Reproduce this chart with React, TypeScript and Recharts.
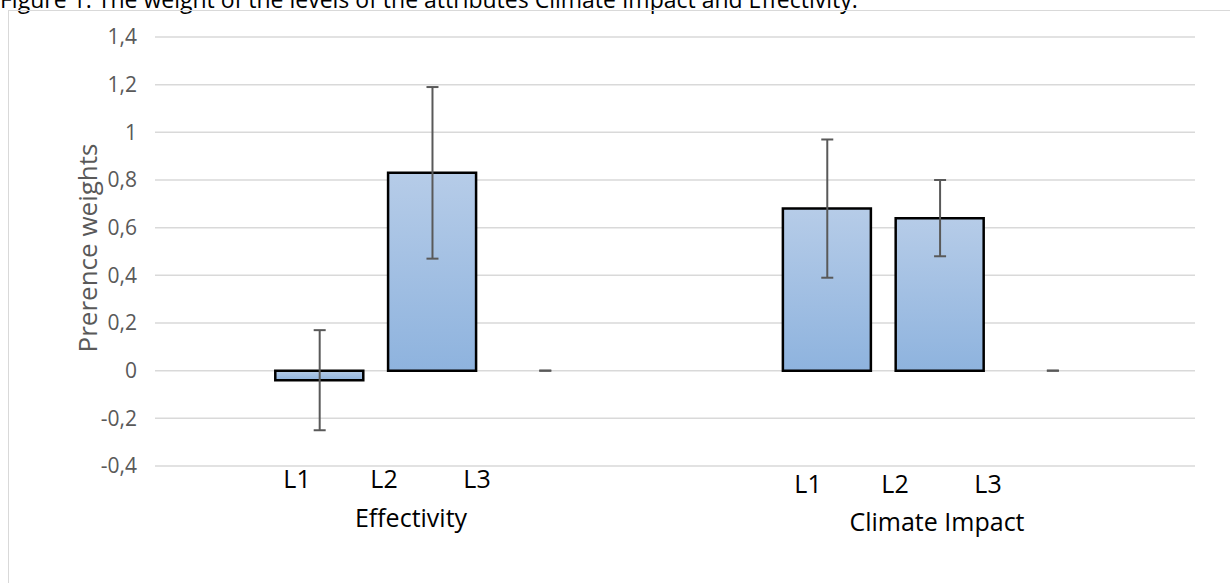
import { ComposedChart, Bar, Scatter, XAxis, YAxis, CartesianGrid, ErrorBar } from "recharts";

const LEVELS = ["L1", "L2", "L3", "L1", "L2", "L3"];
const GROUPS = ["Effectivity", "Effectivity", "Effectivity", "Climate Impact", "Climate Impact", "Climate Impact"];
// position of each level along the category axis (gap between the two attributes)
const LEVEL_POS = [0, 1, 2, 4.5, 5.5, 6.5];
const WEIGHTS = [-0.04, 0.83, 0, 0.68, 0.64, 0];
const ERRORS = [0.21, 0.36, 0, 0.29, 0.16, 0];
const Y_TICKS = [-0.4, -0.2, 0, 0.2, 0.4, 0.6, 0.8, 1, 1.2, 1.4];

const TITLE = "Figure 1: The weight of the levels of the attributes Climate Impact and Effectivity.";
const Y_LABEL = "Prerence weights";

// errors as [low, high] pairs so a zero error still draws its cap
const data = LEVELS.map((level, i) => ({
  level,
  group: GROUPS[i],
  pos: LEVEL_POS[i],
  weight: WEIGHTS[i],
  err: [ERRORS[i], ERRORS[i]],
}));

const font = "'Open Sans', sans-serif";

const fmt = (v: number) => String(Number(v.toFixed(1))).replace(".", ",");

// hand placed text boxes under the plot, like in the original figure
const levelLabels = [
  { text: "L1", x: 297, y: 478 },
  { text: "L2", x: 384, y: 478 },
  { text: "L3", x: 477, y: 478 },
  { text: "L1", x: 808, y: 483 },
  { text: "L2", x: 895, y: 483 },
  { text: "L3", x: 988, y: 483 },
];
const groupLabels = [
  { text: "Effectivity", x: 411, y: 517 },
  { text: "Climate Impact", x: 937, y: 521 },
];

const textBox = (x: number, y: number): React.CSSProperties => ({
  position: "absolute",
  left: x,
  top: y,
  transform: "translate(-50%, -50%)",
  whiteSpace: "nowrap",
  fontFamily: font,
  fontSize: 25,
  color: "#000",
});

export default function App() {
  return (
    <div
      style={{
        position: "absolute",
        left: 0,
        top: 0,
        width: 1230,
        height: 583,
        overflow: "hidden",
        background: "#fff",
      }}
    >
      <div
        style={{
          position: "absolute",
          left: 0,
          top: -15,
          fontFamily: font,
          fontSize: 23,
          lineHeight: "28px",
          color: "#000",
          whiteSpace: "nowrap",
        }}
      >
        {TITLE}
      </div>
      <div
        style={{
          position: "absolute",
          left: 8,
          top: 10,
          width: 1240,
          height: 600,
          border: "1.5px solid #d9d9d9",
        }}
      />
      <div style={{ position: "absolute", left: 0, top: 0 }}>
        <ComposedChart width={1230} height={583} data={data} margin={{ top: 37, right: 35, bottom: 117, left: 0 }}>
          <defs>
            <linearGradient id="barFill" x1="0" y1="0" x2="0" y2="1">
              <stop offset="0%" stopColor="#b6cce8" />
              <stop offset="100%" stopColor="#8eb3de" />
            </linearGradient>
          </defs>
          <CartesianGrid vertical={false} stroke="#d9d9d9" strokeWidth={1.5} />
          <XAxis dataKey="pos" type="number" domain={[-1.46, 7.76]} hide />
          <YAxis
            width={155}
            domain={[-0.4, 1.4]}
            ticks={Y_TICKS}
            tickFormatter={fmt}
            axisLine={false}
            tickLine={false}
            tickSize={16}
            tickMargin={2}
            tick={{ fontSize: 21, fill: "#595959", fontFamily: font }}
          />
          <Bar
            dataKey="weight"
            barSize={88}
            fill="url(#barFill)"
            stroke="#000"
            strokeWidth={2.5}
            isAnimationActive={false}
          />
          {/* error bars hang on invisible points so the zero ones still show their cap */}
          <Scatter dataKey="weight" shape={() => <g />} isAnimationActive={false}>
            <ErrorBar dataKey="err" width={6} stroke="#595959" strokeWidth={2} direction="y" />
          </Scatter>
        </ComposedChart>
      </div>
      <div
        style={{
          position: "absolute",
          left: 87,
          top: 248,
          transform: "translate(-50%, -50%) rotate(-90deg)",
          whiteSpace: "nowrap",
          fontFamily: font,
          fontSize: 26,
          color: "#595959",
        }}
      >
        {Y_LABEL}
      </div>
      {levelLabels.map((l, i) => (
        <div key={"l" + i} style={textBox(l.x, l.y)}>
          {l.text}
        </div>
      ))}
      {groupLabels.map((g, i) => (
        <div key={"g" + i} style={textBox(g.x, g.y)}>
          {g.text}
        </div>
      ))}
    </div>
  );
}
